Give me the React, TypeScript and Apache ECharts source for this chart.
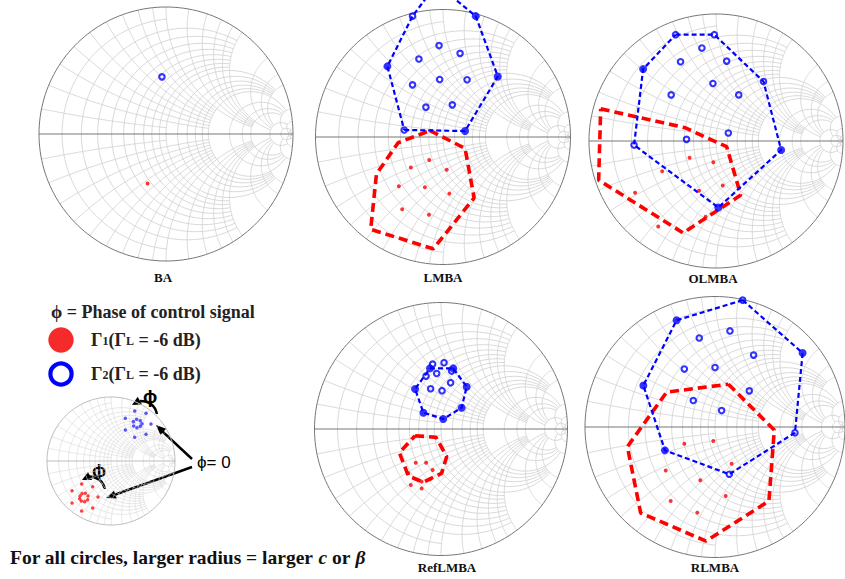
import React, { useEffect, useRef } from "react";
import * as echarts from "echarts";

type Pt = [number, number];

// ---------- Data (reflection coefficients, Re / Im) ----------
const chartTitles = ["BA", "LMBA", "OLMBA", "RefLMBA", "RLMBA"];

// BA
const baGamma1: Pt[] = [[-0.145, -0.389]];
const baGamma2: Pt[] = [[-0.032, 0.45]];

// LMBA
const lmbaGamma1Dots: Pt[] = [[-0.108, -0.181], [-0.252, -0.239], [0.029, -0.257], [-0.346, -0.386], [-0.142, -0.394], [0.05, -0.444], [-0.32, -0.567], [-0.11, -0.609]];
const lmbaGamma1Hull: Pt[] = [[-0.102, 0.05], [0.173, -0.089], [0.244, -0.478], [-0.076, -0.877], [-0.567, -0.724], [-0.522, -0.291], [-0.352, -0.045]];
const lmbaGamma2Rings: Pt[] = [[-0.031, 0.717], [0.134, 0.656], [-0.189, 0.612], [-0.026, 0.451], [0.189, 0.449], [-0.239, 0.409], [-0.134, 0.234], [0.073, 0.252], [-0.239, 0.948], [-0.304, 0.055]];
const lmbaGamma2Filled: Pt[] = [[0.257, 0.948], [0.43, 0.475], [0.173, 0.047], [-0.436, 0.554]];
const lmbaGamma2Hull: Pt[] = [[-0.304, 0.055], [0.173, 0.047], [0.43, 0.475], [0.257, 0.948], [-0.05, 1.2], [-0.239, 0.948], [-0.436, 0.554]];

// OLMBA
const olmbaGamma1Dots: Pt[] = [[-0.208, -0.132], [-0.021, -0.168], [-0.424, -0.239], [0.053, -0.35], [-0.134, -0.392], [-0.637, -0.408], [-0.082, -0.597], [-0.455, -0.674]];
const olmbaGamma1Hull: Pt[] = [[-0.908, 0.253], [-0.245, 0.105], [0.084, -0.045], [0.195, -0.426], [-0.258, -0.724], [-0.924, -0.308]];
const olmbaGamma2Rings: Pt[] = [[-0.111, 0.732], [-0.279, 0.624], [0.084, 0.629], [-0.024, 0.453], [-0.353, 0.363], [0.179, 0.363], [0.097, 0.063], [-0.232, 0.013], [-0.318, 0.837], [-0.013, 0.837], [0.374, 0.468], [-0.645, -0.032]];
const olmbaGamma2Filled: Pt[] = [[-0.574, 0.566], [0.513, -0.071], [0.018, -0.524]];
const olmbaGamma2Hull: Pt[] = [[-0.318, 0.837], [-0.013, 0.837], [0.374, 0.468], [0.513, -0.071], [0.018, -0.524], [-0.645, -0.032], [-0.574, 0.566]];

// RefLMBA
const refGamma1Dots: Pt[] = [[-0.2, -0.266], [-0.118, -0.266], [-0.066, -0.324], [-0.258, -0.35], [-0.087, -0.397], [-0.153, -0.416], [-0.239, -0.442], [-0.153, -0.471]];
const refGamma1Hull: Pt[] = [[-0.205, -0.053], [-0.039, -0.066], [0.045, -0.218], [0.005, -0.35], [-0.139, -0.421], [-0.258, -0.371], [-0.329, -0.187]];
const refGamma2Rings: Pt[] = [[-0.066, 0.513], [0.024, 0.524], [-0.118, 0.418], [-0.034, 0.439], [0.084, 0.458], [0.076, 0.366], [-0.082, 0.318], [0.008, 0.303]];
const refGamma2Filled: Pt[] = [[-0.087, 0.479], [0.097, 0.479], [0.203, 0.334], [0.163, 0.168], [0.018, 0.079], [-0.139, 0.129], [-0.205, 0.316]];
const refGamma2Hull: Pt[] = [[-0.087, 0.479], [0.097, 0.479], [0.203, 0.334], [0.163, 0.168], [0.018, 0.079], [-0.139, 0.129], [-0.205, 0.316]];

// RLMBA
const rlmbaGamma1Dots: Pt[] = [[-0.236, -0.128], [-0.013, -0.108], [0.128, -0.282], [-0.379, -0.333], [-0.113, -0.408], [0.082, -0.528], [-0.341, -0.567], [-0.136, -0.656]];
const rlmbaGamma1Hull: Pt[] = [[0.103, 0.328], [0.456, -0.023], [0.415, -0.567], [-0.069, -0.874], [-0.572, -0.659], [-0.674, -0.151], [-0.372, 0.267]];
const rlmbaGamma2Rings: Pt[] = [[0.115, 0.736], [-0.121, 0.682], [0.297, 0.551], [-0.236, 0.444], [0.0, 0.456], [0.264, 0.277], [-0.167, 0.203], [0.051, 0.126], [0.213, 0.972], [0.615, -0.044], [0.11, -0.362]];
const rlmbaGamma2Filled: Pt[] = [[0.674, 0.567], [-0.385, -0.179], [-0.551, 0.318], [-0.295, 0.818]];
const rlmbaGamma2Hull: Pt[] = [[0.213, 0.972], [0.674, 0.567], [0.615, -0.044], [0.11, -0.362], [-0.385, -0.179], [-0.551, 0.318], [-0.295, 0.818]];

// Legend sketch (phase sweep illustration)
const sketchGamma1: Pt[] = [[-0.609, -0.464], [-0.458, -0.359], [-0.286, -0.401], [-0.203, -0.563], [-0.286, -0.734], [-0.458, -0.781], [-0.609, -0.656], [-0.484, -0.547], [-0.453, -0.51], [-0.401, -0.505], [-0.359, -0.547], [-0.365, -0.604], [-0.411, -0.635], [-0.464, -0.625], [-0.49, -0.589]];
const sketchGamma2: Pt[] = [[0.224, 0.667], [0.37, 0.781], [0.547, 0.745], [0.625, 0.578], [0.547, 0.417], [0.37, 0.37], [0.224, 0.484], [0.349, 0.615], [0.401, 0.651], [0.458, 0.63], [0.484, 0.583], [0.458, 0.542], [0.406, 0.521], [0.354, 0.547]];

// Smith chart grid values and the extent up to which each one is drawn
const smithValues = [50, 20, 10, 5, 4, 3, 2, 1.8, 1.6, 1.4, 1.2, 1, 0.9, 0.8, 0.7, 0.6, 0.5, 0.4, 0.3, 0.2, 0.1];
const smithLimits = [Infinity, 50, 20, 10, 10, 10, 10, 5, 5, 5, 5, 5, 2, 2, 2, 2, 2, 2, 2, 2, 1];

// ---------- Smith chart grid geometry ----------
function buildSmith() {
  const toGamma = (r: number, x: number): Pt => {
    const d = (r + 1) * (r + 1) + x * x;
    return [(r * r + x * x - 1) / d, (2 * x) / d];
  };
  const grid: Pt[][] = [];
  const N = 90;
  smithValues.forEach((v, i) => {
    const lim = smithLimits[i];
    const tMax = isFinite(lim) ? Math.atan(lim) : Math.PI / 2 - 1e-6;
    const rc: Pt[] = [];
    for (let k = 0; k <= N; k++) {
      const t = -tMax + (2 * tMax * k) / N;
      rc.push(toGamma(v, Math.tan(t)));
    }
    grid.push(rc);
    for (const s of [1, -1]) {
      const xc: Pt[] = [];
      for (let k = 0; k <= N; k++) {
        const t = (tMax * k) / N;
        xc.push(toGamma(Math.tan(t), s * v));
      }
      grid.push(xc);
    }
  });
  const outer: Pt[] = [];
  for (let k = 0; k <= 180; k++) {
    const a = (2 * Math.PI * k) / 180;
    outer.push([Math.cos(a), Math.sin(a)]);
  }
  return { grid, outer };
}
const SMITH = buildSmith();

const panels = [
  { cx: 166, cy: 134, r: 127 },
  { cx: 443, cy: 137, r: 127.5 },
  { cx: 716, cy: 141, r: 127 },
  { cx: 441, cy: 429, r: 126.5 },
  { cx: 715.5, cy: 427, r: 130.5 },
  { cx: 111, cy: 461, r: 64 },
];

const RED = "#ff0000";
const BLUE = "#0000ff";
const SERIF = "Liberation Serif";
const SANS = "Liberation Sans";

function gridSeries(idx: number, light: boolean) {
  return {
    type: "custom",
    xAxisIndex: idx,
    yAxisIndex: idx,
    silent: true,
    z: 1,
    data: [[0, 0]],
    renderItem: (_params: any, api: any) => {
      const children: any[] = SMITH.grid.map((path) => ({
        type: "polyline",
        shape: { points: path.map((p) => api.coord(p)) },
        style: { stroke: light ? "#d6d6d6" : "#d2d2d2", lineWidth: light ? 0.6 : 0.85, fill: "none" },
      }));
      children.push({
        type: "polyline",
        shape: { points: SMITH.outer.map((p) => api.coord(p)) },
        style: { stroke: light ? "#bdbdbd" : "#777777", lineWidth: 1, fill: "none" },
      });
      const a = api.coord([-1, 0]);
      const b = api.coord([1, 0]);
      children.push({
        type: "line",
        shape: { x1: a[0], y1: a[1], x2: b[0], y2: b[1] },
        style: { stroke: light ? "#bdbdbd" : "#777777", lineWidth: 1 },
      });
      return { type: "group", children };
    },
  };
}

const closed = (pts: Pt[]) => [...pts, pts[0]];

function panelSeries(idx: number, g1Dots: Pt[], g1Hull: Pt[] | null, g2Rings: Pt[], g2Filled: Pt[], g2Hull: Pt[] | null) {
  const out: any[] = [gridSeries(idx, false)];
  const ax = { xAxisIndex: idx, yAxisIndex: idx };
  if (g1Hull) {
    out.push({
      ...ax, type: "line", data: closed(g1Hull), symbol: "none", clip: false, z: 2,
      lineStyle: { color: RED, width: 3.6, type: [9, 5] },
    });
  }
  if (g2Hull) {
    out.push({
      ...ax, type: "line", data: closed(g2Hull), symbol: "none", clip: false, z: 2,
      lineStyle: { color: BLUE, width: 2.2, type: [5, 3] },
    });
  }
  out.push({ ...ax, type: "scatter", data: g1Dots, symbol: "circle", symbolSize: 4, itemStyle: { color: RED }, z: 3 });
  out.push({
    ...ax, type: "scatter", data: g2Rings, symbol: "circle", symbolSize: 5.5, z: 3,
    itemStyle: { color: "rgba(255,255,255,0)", borderColor: BLUE, borderWidth: 2.1 },
  });
  if (g2Filled.length) {
    out.push({ ...ax, type: "scatter", data: g2Filled, symbol: "circle", symbolSize: 8, itemStyle: { color: BLUE }, z: 3 });
  }
  return out;
}

function arrowHead(tx: number, ty: number, fx: number, fy: number, len: number, half: number) {
  const dx = tx - fx;
  const dy = ty - fy;
  const l = Math.hypot(dx, dy);
  const ux = dx / l;
  const uy = dy / l;
  const bx = tx - ux * len;
  const by = ty - uy * len;
  return {
    type: "polygon",
    shape: { points: [[tx, ty], [bx - uy * half, by + ux * half], [bx + uy * half, by - ux * half]] },
    style: { fill: "#000" },
  };
}

export default function App() {
  const ref = useRef<HTMLDivElement>(null);
  useEffect(() => {
    if (!ref.current) return;
    const chart = echarts.init(ref.current, undefined, { renderer: "svg" });

    const series: any[] = [
      ...panelSeries(0, baGamma1, null, baGamma2, [], null),
      ...panelSeries(1, lmbaGamma1Dots, lmbaGamma1Hull, lmbaGamma2Rings, lmbaGamma2Filled, lmbaGamma2Hull),
      ...panelSeries(2, olmbaGamma1Dots, olmbaGamma1Hull, olmbaGamma2Rings, olmbaGamma2Filled, olmbaGamma2Hull),
      ...panelSeries(3, refGamma1Dots, refGamma1Hull, refGamma2Rings, refGamma2Filled, refGamma2Hull),
      ...panelSeries(4, rlmbaGamma1Dots, rlmbaGamma1Hull, rlmbaGamma2Rings, rlmbaGamma2Filled, rlmbaGamma2Hull),
      gridSeries(5, true),
      { type: "scatter", xAxisIndex: 5, yAxisIndex: 5, data: sketchGamma1, symbolSize: 3.5, itemStyle: { color: "#ff1010" }, z: 3 },
      { type: "scatter", xAxisIndex: 5, yAxisIndex: 5, data: sketchGamma2, symbolSize: 3.5, itemStyle: { color: "#3030ff" }, z: 3 },
    ];

    const titlePos: Pt[] = [[163, 277], [443, 277], [713, 278], [447, 567], [715, 567]];
    const titles = chartTitles.map((t, i) => ({
      type: "text", x: titlePos[i][0], y: titlePos[i][1],
      style: { text: t, fill: "#111", fontFamily: SERIF, fontSize: 13, fontWeight: "bold", textAlign: "center", textVerticalAlign: "middle" },
    }));

    const legendRich = {
      m: { fontFamily: SERIF, fontSize: 18, lineHeight: 14, fill: "#222", fontWeight: "bold" },
      s: { fontFamily: SERIF, fontSize: 12, lineHeight: 2, fill: "#222", fontWeight: "bold", verticalAlign: "bottom" },
    };

    const graphic: any[] = [
      ...titles,
      {
        type: "text", x: 51, y: 312,
        style: { text: "ϕ = Phase of control signal", fill: "#222", fontFamily: SERIF, fontSize: 18, fontWeight: "bold", textVerticalAlign: "middle" },
      },
      { type: "circle", shape: { cx: 61, cy: 340, r: 12.7 }, style: { fill: "#f52a2a" } },
      { type: "circle", shape: { cx: 61, cy: 374, r: 10.6 }, style: { fill: "none", stroke: BLUE, lineWidth: 4.2 } },
      {
        type: "text", x: 91, y: 340,
        style: { text: "{m|Γ}{s|1}{m|(Γ}{s|L}{m| = -6 dB)}", rich: legendRich, textVerticalAlign: "middle" },
      },
      {
        type: "text", x: 91, y: 374,
        style: { text: "{m|Γ}{s|2}{m|(Γ}{s|L}{m| = -6 dB)}", rich: legendRich, textVerticalAlign: "middle" },
      },
      // arrows pointing to the phi = 0 points
      { type: "line", shape: { x1: 192, y1: 459, x2: 162, y2: 431 }, style: { stroke: "#000", lineWidth: 2.4 } },
      arrowHead(156, 425, 192, 459, 10, 4.2),
      { type: "line", shape: { x1: 192, y1: 467, x2: 114, y2: 495 }, style: { stroke: "#000", lineWidth: 2.4 } },
      arrowHead(106, 498, 192, 467, 10, 4.2),
      { type: "text", x: 197, y: 462, style: { text: "ϕ= 0", fill: "#000", fontFamily: SANS, fontSize: 17, textVerticalAlign: "middle" } },
      // curved phase arrows
      { type: "bezierCurve", shape: { x1: 157, y1: 414, cpx1: 154, cpy1: 401, x2: 140, y2: 401 }, style: { stroke: "#000", lineWidth: 2.4, fill: "none" } },
      arrowHead(132, 405, 141, 400, 9, 4.5),
      { type: "text", x: 150, y: 396.5, style: { text: "ϕ", fill: "#000", fontFamily: SANS, fontSize: 19, fontWeight: "bold", textAlign: "center", textVerticalAlign: "middle" } },
      { type: "bezierCurve", shape: { x1: 105, y1: 489, cpx1: 102, cpy1: 477, x2: 89, y2: 476.5 }, style: { stroke: "#000", lineWidth: 2.4, fill: "none" } },
      arrowHead(82, 480, 90, 476, 9, 4.5),
      { type: "text", x: 99, y: 470, style: { text: "ϕ", fill: "#000", fontFamily: SANS, fontSize: 19, fontWeight: "bold", textAlign: "center", textVerticalAlign: "middle" } },
      // footnote
      {
        type: "text", x: 10, y: 557,
        style: {
          text: "{n|For all circles, larger radius = larger }{i|c}{n| or }{i|β}",
          textVerticalAlign: "middle",
          rich: {
            n: { fontFamily: SERIF, fontSize: 19.5, fontWeight: "bold", fill: "#111" },
            i: { fontFamily: SERIF, fontSize: 19.5, fontWeight: "bold", fontStyle: "italic", fill: "#111" },
          },
        },
      },
    ];

    chart.setOption({
      animation: false,
      backgroundColor: "#ffffff",
      grid: panels.map((p) => ({ left: p.cx - p.r, top: p.cy - p.r, width: 2 * p.r, height: 2 * p.r, containLabel: false })),
      xAxis: panels.map((_, i) => ({ type: "value", gridIndex: i, min: -1, max: 1, show: false })),
      yAxis: panels.map((_, i) => ({ type: "value", gridIndex: i, min: -1, max: 1, show: false })),
      series,
      graphic,
    });
    return () => chart.dispose();
  }, []);

  return <div ref={ref} style={{ position: "absolute", left: 0, top: 0, width: 845, height: 579 }} />;
}
